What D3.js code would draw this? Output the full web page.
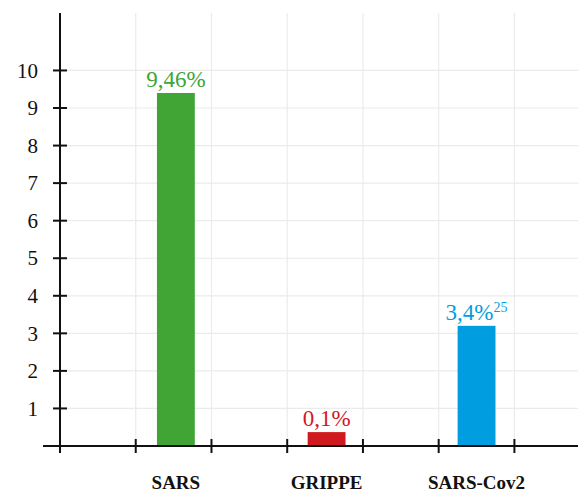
<!DOCTYPE html>
<html>
<head>
<meta charset="utf-8">
<script src="https://cdn.jsdelivr.net/npm/d3@7"></script>
<style>
  body { margin: 0; background: #fff; }
  text { font-family: 'Liberation Serif', 'Times New Roman', 'DejaVu Serif', serif; }
</style>
</head>
<body>
<svg width="578" height="492"></svg>
<script>
// chart data
var categories = ["SARS", "GRIPPE", "SARS-Cov2"];
var positions = [1.53, 3.52, 5.5];
var values = [9.4, 0.37, 3.2];
var labels = ["9,46%", "0,1%", "3,4%"];
var labelSup = ["", "", "25"];
var colors = ["#40a535", "#d0191e", "#009ee0"];
var yTicks = [1, 2, 3, 4, 5, 6, 7, 8, 9, 10];
var xTicks = [0, 1, 2, 3, 4, 5, 6];

document.addEventListener('DOMContentLoaded', function () {
    const svg = d3.select('svg');
    const serif = "'Liberation Serif', 'Times New Roman', 'DejaVu Serif', serif";

    const xScale = d3.scaleLinear().domain([0, 6.8]).range([60, 575]);
    const yScale = d3.scaleLinear().domain([0, 11.53]).range([446, 13]);

    // grid lines
    svg.append('g').selectAll('line')
        .data(yTicks)
        .join('line')
        .attr('x1', 60).attr('x2', 578)
        .attr('y1', d => yScale(d)).attr('y2', d => yScale(d))
        .attr('stroke', '#ebebeb').attr('stroke-width', 1.2);
    svg.append('g').selectAll('line')
        .data(xTicks.slice(1))
        .join('line')
        .attr('x1', d => xScale(d)).attr('x2', d => xScale(d))
        .attr('y1', 13).attr('y2', 446)
        .attr('stroke', '#ebebeb').attr('stroke-width', 1.2);

    // bars
    const barWidth = xScale(0.5) - xScale(0);
    svg.append('g').selectAll('rect')
        .data(values)
        .join('rect')
        .attr('x', (d, i) => xScale(positions[i]) - barWidth / 2)
        .attr('y', d => yScale(d))
        .attr('width', barWidth)
        .attr('height', d => yScale(0) - yScale(d))
        .attr('fill', (d, i) => colors[i]);

    // value labels
    const vl = svg.append('g').selectAll('text')
        .data(d3.range(values.length))
        .join('text')
        .attr('x', i => xScale(positions[i]))
        .attr('y', i => yScale(values[i]) - 6)
        .attr('text-anchor', 'middle')
        .attr('font-family', serif)
        .attr('font-size', 23)
        .attr('fill', i => colors[i]);
    vl.append('tspan').text(i => labels[i]);
    vl.filter(i => labelSup[i] !== '')
        .append('tspan')
        .attr('dy', -8)
        .attr('font-size', 14)
        .text(i => labelSup[i]);

    // y axis
    const yAxis = d3.axisLeft(yScale).tickValues(yTicks).tickSize(0).tickPadding(22);
    const gy = svg.append('g').attr('transform', 'translate(60,0)').call(yAxis);
    gy.attr('font-family', serif);
    gy.select('.domain').remove();
    gy.selectAll('text').attr('font-size', 21).attr('fill', '#111');
    svg.append('g').selectAll('line')
        .data(yTicks)
        .join('line')
        .attr('x1', 53).attr('x2', 67)
        .attr('y1', d => yScale(d)).attr('y2', d => yScale(d))
        .attr('stroke', '#111').attr('stroke-width', 2);
    svg.append('line')
        .attr('x1', 60).attr('x2', 60).attr('y1', 13).attr('y2', 453)
        .attr('stroke', '#111').attr('stroke-width', 2);

    // x axis
    svg.append('line')
        .attr('x1', 43).attr('x2', 578).attr('y1', yScale(0)).attr('y2', yScale(0))
        .attr('stroke', '#111').attr('stroke-width', 2);
    svg.append('g').selectAll('line')
        .data(xTicks)
        .join('line')
        .attr('x1', d => xScale(d)).attr('x2', d => xScale(d))
        .attr('y1', yScale(0) - 7).attr('y2', yScale(0) + 7)
        .attr('stroke', '#111').attr('stroke-width', 2);

    // category labels
    svg.append('g').selectAll('text')
        .data(categories)
        .join('text')
        .attr('x', (d, i) => xScale(positions[i]))
        .attr('y', 489)
        .attr('text-anchor', 'middle')
        .attr('font-family', serif)
        .attr('font-size', 19)
        .attr('font-weight', 'bold')
        .attr('fill', '#111')
        .text(d => d);
});
</script>
</body>
</html>
